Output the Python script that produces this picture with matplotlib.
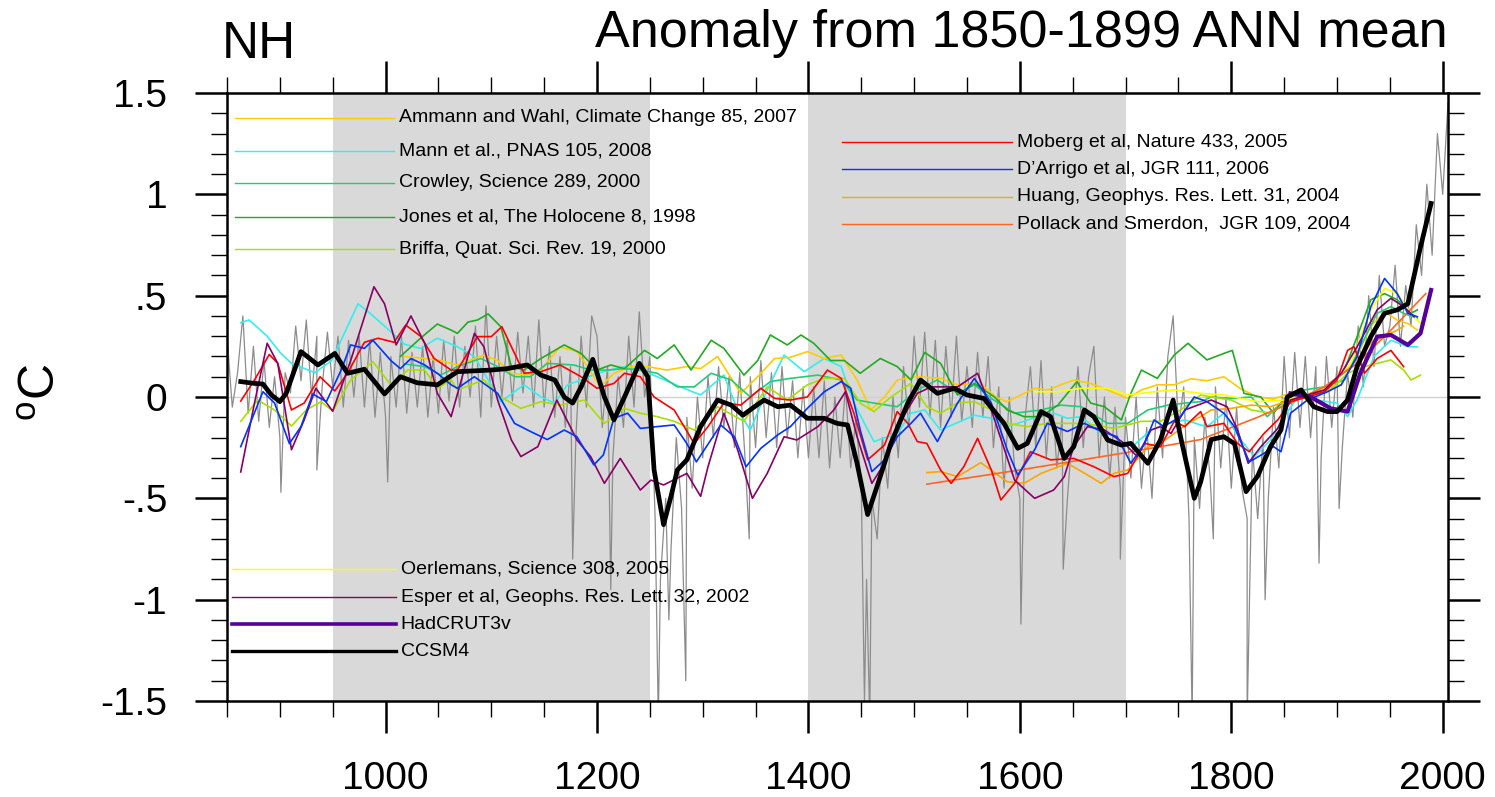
import numpy as np
import matplotlib.pyplot as plt
from matplotlib.ticker import MultipleLocator

plt.rcParams['font.family'] = ['Liberation Sans', 'DejaVu Sans']
plt.rcParams['mathtext.fontset'] = 'custom'
plt.rcParams['mathtext.rm'] = 'Liberation Sans'

# ---- data (years, anomaly degC) ----
shade_start = [950, 1400]
shade_end = [1250, 1700]

mann_yr = [863, 871, 888, 901, 911, 933, 949, 974, 986, 999, 1018, 1033, 1049, 1068, 1084, 1097, 1109, 1131,
           1147, 1160, 1172, 1185, 1200, 1226, 1241, 1257, 1279, 1298, 1320, 1333, 1345, 1361, 1377, 1396,
           1415, 1431, 1443, 1462, 1484, 1497, 1510, 1525, 1557, 1573, 1588, 1604, 1620, 1632, 1645, 1658,
           1677, 1696, 1708, 1724, 1740, 1756, 1771, 1777, 1793, 1809, 1822, 1837, 1850, 1863, 1881, 1900,
           1910, 1919, 1935, 1951, 1967, 1976]
mann_val = [0.367, 0.38, 0.30, 0.215, 0.166, 0.12, 0.18, 0.46, 0.41, 0.35, 0.26, 0.24, 0.29, 0.248, 0.2, 0.084,
            -0.023, 0.06, 0.0, -0.03, 0.06, 0.084, 0.117, 0.15, 0.133, 0.10, 0.05, 0.01, 0.108, -0.064, -0.163,
            0.035, 0.207, 0.125, 0.19, 0.15, -0.03, -0.22, -0.18, -0.08, -0.064, -0.163, -0.09, -0.105, -0.146,
            -0.12, -0.09, -0.08, -0.105, -0.097, -0.18, -0.245, -0.237, -0.163, -0.13, -0.113, -0.138, -0.146,
            -0.08, -0.212, -0.294, -0.212, -0.097, 0.0, -0.015, -0.03, -0.097, -0.015, 0.2, 0.28, 0.248, 0.248]

moberg_yr = [863, 876, 890, 898, 911, 923, 938, 952, 964, 980, 993, 1008, 1019, 1033, 1046, 1062, 1068, 1087,
             1100, 1110, 1122, 1131, 1147, 1165, 1185, 1200, 1216, 1226, 1241, 1254, 1273, 1292, 1305, 1320,
             1336, 1355, 1368, 1383, 1399, 1418, 1431, 1443, 1456, 1472, 1484, 1494, 1503, 1512, 1525, 1535,
             1547, 1560, 1573, 1582, 1595, 1610, 1629, 1651, 1670, 1689, 1702, 1718, 1733, 1746, 1756, 1771,
             1777, 1793, 1806, 1817, 1831, 1844, 1856, 1872, 1888, 1900, 1910, 1916, 1926, 1938, 1951, 1963]
moberg_val = [-0.02, 0.084, 0.21, 0.166, -0.064, -0.03, 0.10, 0.03, 0.117, 0.27, 0.29, 0.27, 0.355, 0.30, 0.19,
              0.133, 0.133, 0.298, 0.298, 0.347, 0.215, 0.117, 0.125, 0.158, 0.10, 0.043, 0.067, 0.117, 0.10,
              0.0, -0.064, -0.23, -0.146, -0.03, -0.04, 0.043, -0.007, -0.015, 0.0, 0.133, 0.092, -0.08, -0.31,
              -0.237, -0.072, -0.13, -0.22, -0.229, -0.36, -0.426, -0.344, -0.204, -0.36, -0.508, -0.426, -0.27,
              -0.31, -0.303, -0.344, -0.393, -0.377, -0.229, -0.245, -0.12, -0.146, -0.072, -0.146, -0.13, -0.23,
              -0.27, -0.18, -0.113, -0.023, 0.0, 0.026, 0.084, 0.23, 0.248, 0.117, 0.19, 0.23, 0.15]

darrigo_yr = [863, 884, 895, 909, 920, 931, 944, 958, 967, 980, 988, 1005, 1014, 1024, 1037, 1049, 1062, 1068,
              1084, 1106, 1122, 1137, 1153, 1169, 1181, 1197, 1206, 1216, 1229, 1241, 1257, 1273, 1285, 1294,
              1317, 1330, 1341, 1355, 1371, 1383, 1399, 1415, 1431, 1440, 1449, 1460, 1472, 1484, 1497, 1506,
              1522, 1541, 1557, 1573, 1588, 1598, 1614, 1626, 1645, 1661, 1677, 1692, 1705, 1718, 1727, 1736,
              1752, 1765, 1777, 1793, 1803, 1817, 1831, 1840, 1847, 1856, 1872, 1891, 1904, 1919, 1932, 1945,
              1957, 1967, 1976]
darrigo_val = [-0.245, 0.026, -0.03, -0.23, -0.146, 0.015, -0.023, 0.133, 0.257, 0.24, 0.28, 0.18, 0.14, 0.19,
               0.158, 0.117, 0.06, 0.043, 0.10, 0.018, -0.13, -0.17, -0.21, -0.163, -0.196, -0.335, -0.286,
               -0.105, -0.08, -0.155, -0.146, -0.138, -0.23, -0.32, -0.138, -0.196, -0.344, -0.253, -0.187,
               -0.146, -0.056, 0.026, 0.076, 0.043, -0.163, -0.368, -0.31, -0.196, -0.13, -0.08, -0.22, -0.03,
               0.092, -0.03, -0.26, -0.385, -0.26, -0.13, -0.17, -0.13, -0.17, -0.196, -0.327, -0.229, -0.113,
               -0.146, -0.097, 0.0, -0.023, -0.08, -0.146, -0.32, -0.278, -0.245, -0.27, -0.08, -0.015, 0.026,
               0.06, 0.2, 0.446, 0.585, 0.51, 0.413, 0.396]

esper_yr = [863, 876, 888, 898, 911, 923, 934, 950, 967, 989, 999, 1010, 1024, 1037, 1049, 1062, 1084, 1093,
            1106, 1119, 1128, 1144, 1162, 1181, 1194, 1207, 1222, 1241, 1251, 1263, 1285, 1298, 1305, 1320,
            1333, 1347, 1361, 1377, 1389, 1409, 1424, 1435, 1446, 1460, 1472, 1484, 1503, 1516, 1541, 1560,
            1573, 1595, 1614, 1632, 1642, 1651, 1664, 1680, 1699, 1711, 1724, 1733, 1743, 1756, 1781, 1796,
            1806, 1816, 1828, 1844, 1856, 1872, 1888, 1904, 1919, 1938, 1951, 1963, 1973]
esper_val = [-0.37, -0.03, 0.265, 0.166, -0.26, -0.113, 0.043, -0.07, 0.18, 0.544, 0.46, 0.257, 0.40, 0.265,
             0.018, -0.097, 0.314, 0.248, -0.015, -0.212, -0.294, -0.245, -0.015, -0.212, -0.294, -0.426,
             -0.303, -0.459, -0.41, -0.434, -0.377, -0.49, -0.344, -0.08, -0.26, -0.5, -0.377, -0.196, -0.212,
             -0.146, -0.064, 0.026, -0.196, -0.426, -0.327, -0.146, 0.018, 0.05, 0.05, 0.117, -0.064, -0.41,
             -0.5, -0.459, -0.393, -0.245, -0.146, -0.163, -0.229, -0.294, -0.163, -0.146, -0.18, -0.064,
             -0.015, -0.048, -0.163, -0.327, -0.245, -0.155, -0.015, 0.01, 0.035, 0.117, 0.248, 0.43, 0.487,
             0.446, 0.396]

briffa_yr = [863, 879, 895, 911, 925, 939, 950, 967, 988, 1005, 1021, 1037, 1049, 1062, 1068, 1093, 1109, 1128,
             1147, 1165, 1188, 1207, 1226, 1241, 1257, 1273, 1292, 1314, 1339, 1361, 1380, 1399, 1415, 1434,
             1449, 1462, 1478, 1497, 1512, 1525, 1541, 1557, 1573, 1588, 1607, 1626, 1651, 1670, 1689, 1715,
             1733, 1752, 1771, 1781, 1800, 1819, 1837, 1856, 1875, 1894, 1910, 1926, 1938, 1951, 1963, 1970,
             1979]
briffa_val = [-0.12, -0.015, -0.064, -0.143, -0.064, -0.023, -0.07, 0.084, 0.174, 0.06, 0.133, 0.133, 0.043,
              0.084, 0.035, 0.084, 0.0, -0.056, -0.023, -0.04, -0.015, -0.13, -0.056, -0.08, -0.097, -0.12,
              -0.163, -0.048, -0.12, 0.05, -0.015, 0.06, 0.092, 0.092, -0.03, -0.072, 0.0, 0.067, -0.048, -0.08,
              -0.03, -0.023, -0.064, -0.13, -0.146, -0.13, -0.13, -0.138, -0.155, -0.12, -0.12, -0.064, 0.01,
              0.0, -0.015, -0.064, -0.08, -0.015, 0.0, 0.035, 0.117, 0.15, 0.166, 0.183, 0.133, 0.084, 0.108]

jones_yr = [1014, 1033, 1049, 1062, 1068, 1078, 1087, 1097, 1109, 1119, 1131, 1147, 1169, 1185, 1200, 1213,
            1226, 1245, 1257, 1273, 1289, 1308, 1320, 1339, 1352, 1364, 1380, 1393, 1405, 1421, 1434, 1449,
            1468, 1484, 1497, 1510, 1525, 1541, 1557, 1576, 1588, 1604, 1620, 1636, 1654, 1667, 1680, 1696,
            1705, 1715, 1730, 1746, 1759, 1777, 1793, 1801, 1812, 1828, 1840, 1853, 1872, 1894, 1907, 1919,
            1932, 1945, 1957, 1970, 1976]
jones_val = [0.20, 0.29, 0.36, 0.33, 0.314, 0.37, 0.38, 0.41, 0.347, 0.15, 0.133, 0.19, 0.257, 0.215, 0.133,
             0.158, 0.14, 0.23, 0.19, 0.257, 0.133, 0.28, 0.24, 0.108, 0.18, 0.306, 0.257, 0.306, 0.265, 0.18,
             0.18, 0.117, 0.19, 0.15, 0.084, 0.22, 0.166, 0.01, 0.067, 0.0, -0.064, -0.097, -0.097, -0.04, 0.076,
             -0.03, -0.048, -0.113, 0.018, 0.133, 0.092, 0.207, 0.265, 0.183, 0.215, 0.23, 0.018, 0.0, -0.08,
             0.01, 0.0, 0.05, 0.133, 0.298, 0.48, 0.51, 0.48, 0.413, 0.43]

crowley_yr = [1018, 1037, 1052, 1068, 1090, 1106, 1122, 1137, 1153, 1178, 1194, 1210, 1226, 1241, 1257, 1276,
              1292, 1308, 1327, 1345, 1364, 1383, 1409, 1431, 1446, 1462, 1484, 1503, 1522, 1541, 1557, 1573,
              1595, 1620, 1639, 1658, 1683, 1702, 1721, 1740, 1756, 1771, 1781, 1800, 1819, 1834, 1850, 1869,
              1888, 1907, 1922, 1938, 1951, 1963, 1976]
crowley_val = [0.163, 0.15, 0.108, 0.15, 0.19, 0.15, 0.10, 0.10, 0.166, 0.158, 0.133, 0.133, 0.14, 0.133, 0.117,
               0.05, 0.05, 0.117, 0.084, 0.0, 0.076, 0.092, 0.108, 0.084, -0.015, -0.03, -0.048, 0.035, 0.084,
               0.018, 0.06, -0.007, -0.08, -0.064, -0.04, -0.048, -0.13, -0.13, -0.064, -0.04, -0.03, -0.023,
               0.0, -0.007, 0.0, -0.097, -0.015, 0.035, 0.05, 0.084, 0.248, 0.413, 0.446, 0.413, 0.388]

ammann_yr = [1018, 1037, 1052, 1068, 1093, 1106, 1119, 1134, 1147, 1165, 1181, 1191, 1203, 1216, 1232, 1248,
             1266, 1285, 1298, 1314, 1336, 1352, 1368, 1383, 1399, 1415, 1431, 1446, 1459, 1472, 1484, 1503,
             1525, 1541, 1563, 1577, 1588, 1614, 1626, 1651, 1667, 1683, 1702, 1715, 1730, 1746, 1762, 1777,
             1793, 1809, 1825, 1840, 1856, 1872, 1888, 1904, 1919, 1932, 1945, 1957, 1968, 1976]
ammann_val = [0.2, 0.19, 0.18, 0.158, 0.207, 0.18, 0.117, 0.108, 0.133, 0.248, 0.224, 0.15, 0.05, 0.117, 0.15,
              0.15, 0.133, 0.15, 0.14, 0.2, 0.018, 0.10, 0.19, 0.196, 0.224, 0.19, 0.207, 0.084, -0.064, 0.0,
              0.084, 0.10, 0.092, 0.06, 0.067, 0.0, -0.023, 0.043, 0.035, 0.084, 0.067, 0.035, -0.007, 0.035,
              0.06, 0.06, 0.09, 0.08, 0.10, 0.04, 0.0, -0.01, 0.02, 0.01, 0.04, 0.06, 0.2, 0.35, 0.42, 0.38,
              0.36, 0.33]

oerlemans_yr = [1614, 1636, 1658, 1683, 1702, 1727, 1746, 1771, 1793, 1825, 1850, 1872, 1894, 1913, 1932, 1945,
                1957, 1970, 1982]
oerlemans_val = [0.026, 0.026, 0.043, 0.043, 0.01, 0.026, 0.035, 0.018, 0.01, -0.023, -0.015, 0.01, 0.05, 0.166,
                 0.43, 0.536, 0.51, 0.413, 0.347]

huang_yr = [1512, 1525, 1541, 1563, 1588, 1604, 1620, 1645, 1664, 1677, 1689, 1702, 1721, 1733, 1746, 1759,
            1771, 1781, 1800, 1819, 1837, 1856, 1875, 1894, 1913, 1932, 1945, 1957, 1963]
huang_val = [-0.373, -0.368, -0.393, -0.324, -0.418, -0.426, -0.377, -0.327, -0.385, -0.426, -0.377, -0.36,
             -0.245, -0.229, -0.18, -0.13, -0.097, -0.064, -0.056, -0.04, -0.048, -0.015, 0.018, 0.067, 0.15,
             0.265, 0.3, 0.33, 0.35]

pollack_yr = [1512, 1600, 1700, 1771, 1825, 1856, 1888, 1919, 1951, 1984]
pollack_val = [-0.43, -0.36, -0.275, -0.21, -0.1, -0.03, 0.05, 0.166, 0.33, 0.51]

hadcrut_yr = [1856, 1875, 1894, 1910, 1922, 1938, 1951, 1967, 1979, 1989]
hadcrut_val = [0.018, 0.0, -0.056, -0.072, 0.117, 0.298, 0.306, 0.257, 0.314, 0.528]

ccsm_yr = [863, 876, 884, 892, 900, 906, 920, 936, 952, 964, 980, 999, 1014, 1030, 1049, 1068, 1100, 1115, 1134,
           1147, 1160, 1169, 1177, 1185, 1196, 1207, 1216, 1226, 1240, 1248, 1254, 1263, 1270, 1276, 1285, 1298,
           1314, 1327, 1338, 1349, 1358, 1371, 1383, 1399, 1415, 1427, 1437, 1446, 1456, 1465, 1478, 1494, 1506,
           1522, 1538, 1550, 1566, 1585, 1598, 1607, 1620, 1629, 1642, 1651, 1661, 1670, 1683, 1696, 1705, 1721,
           1733, 1745, 1752, 1765, 1771, 1781, 1793, 1803, 1814, 1825, 1837, 1847, 1853, 1866, 1878, 1891, 1900,
           1910, 1919, 1932, 1945, 1957, 1967, 1979, 1989]
ccsm_val = [0.076, 0.067, 0.064, 0.01, -0.023, 0.018, 0.224, 0.158, 0.215, 0.117, 0.137, 0.015, 0.10, 0.07, 0.06,
            0.125, 0.133, 0.14, 0.158, 0.108, 0.084, 0.0, -0.03, 0.05, 0.186, 0.0, -0.113, 0.0, 0.166, 0.10,
            -0.36, -0.63, -0.49, -0.36, -0.31, -0.146, -0.015, -0.04, -0.09, -0.048, -0.015, -0.048, -0.04,
            -0.105, -0.105, -0.13, -0.138, -0.327, -0.58, -0.44, -0.229, -0.03, 0.084, 0.018, 0.043, 0.01,
            -0.007, -0.13, -0.253, -0.229, -0.072, -0.097, -0.303, -0.245, -0.064, -0.097, -0.212, -0.237,
            -0.229, -0.327, -0.212, -0.015, -0.196, -0.5, -0.42, -0.21, -0.196, -0.23, -0.467, -0.39, -0.245,
            -0.163, 0.0, 0.035, -0.048, -0.072, -0.072, -0.015, 0.15, 0.298, 0.413, 0.43, 0.46, 0.74, 0.955]

# CCSM4 annual values, every 5 years from 850, plus volcanic dips
annual_yr = np.arange(850, 2006, 5)
annual_val = [0.30, -0.05, 0.12, 0.40, -0.08, 0.25, -0.12, 0.18, -0.15, 0.10,
              -0.20, 0.12, 0.02, 0.35, 0.08, 0.38, 0.0, 0.30, 0.05, 0.32,
              0.05, 0.30, -0.05, 0.28, 0.0, 0.30, -0.05, 0.28, -0.10, 0.22,
              -0.10, 0.20, -0.05, 0.30, -0.08, 0.22, -0.05, 0.25, -0.10, 0.20,
              -0.08, 0.28, -0.02, 0.30, -0.05, 0.25, 0.0, 0.35, -0.10, 0.45,
              -0.05, 0.30, 0.0, 0.28, -0.02, 0.32, 0.02, 0.30, -0.05, 0.38,
              -0.05, 0.25, -0.10, 0.20, -0.15, 0.15, -0.20, 0.30, -0.05, 0.40,
              0.30, -0.15, 0.15, -0.30, 0.10, -0.15, 0.30, -0.05, 0.42, 0.0,
              0.20, -0.6, -0.9, -0.5, -0.75, -0.2, -0.55, -0.1, -0.45, 0.0,
              -0.3, 0.1, -0.2, 0.15, -0.15, 0.1, -0.25, 0.12, -0.3, 0.1,
              -0.25, 0.18, -0.2, 0.12, -0.25, 0.15, -0.2, 0.08, -0.3, 0.05,
              -0.3, 0.05, -0.3, 0.08, -0.35, 0.0, -0.3, 0.05, -0.35, -0.1,
              -0.45, -0.9, -0.5, -0.7, -0.2, -0.45, 0.0, -0.3, 0.15, -0.15,
              0.30, -0.05, 0.32, -0.10, 0.28, -0.15, 0.25, -0.10, 0.30, -0.12,
              0.15, -0.15, 0.22, -0.10, 0.20, -0.25, 0.05, -0.45, 0.0, -0.35,
              -0.5, -0.1, 0.15, -0.25, 0.18, -0.3, 0.05, -0.35, -0.1, -0.5,
              -0.15, 0.15, -0.25, 0.1, 0.25, -0.3, 0.0, -0.4, -0.05, -0.45,
              -0.1, -0.4, 0.0, -0.45, -0.15, -0.5, 0.05, -0.3, 0.2, 0.4,
              -0.15, 0.05, -0.6, -0.2, -0.55, -0.1, -0.4, 0.05, -0.35, 0.0,
              -0.45, -0.05, -0.45, -0.6, -0.25, -0.6, -0.2, -0.5, -0.05, -0.35,
              0.2, -0.2, 0.22, -0.15, 0.2, -0.2, 0.15, -0.3, 0.2, -0.15,
              0.15, -0.25, 0.12, -0.1, 0.35, 0.05, 0.5, 0.15, 0.6, 0.25,
              0.35, 0.65, 0.25, 0.55, 0.35, 0.85, 0.6, 1.05, 0.7, 1.3, 1.0, 1.45]
dip_yr = [901, 935, 1002, 1177, 1213, 1258, 1268, 1284, 1344, 1453, 1458, 1601, 1641, 1695, 1763, 1783, 1815,
          1832, 1883, 1902]
dip_val = [-0.47, -0.36, -0.42, -0.80, -0.95, -1.6, -1.1, -1.4, -0.7, -1.5, -1.6, -1.12, -0.85, -0.8, -1.6,
           -0.7, -1.6, -1.0, -0.82, -0.55]

# ---- figure ----
fig = plt.figure(figsize=(14.95, 7.97), dpi=100)
ax = fig.add_axes([227 / 1495, 96 / 797, 1221 / 1495, 608 / 797])

for s, e in zip(shade_start, shade_end):
    ax.axvspan(s, e, color='#d9d9d9', lw=0, zorder=0)
ax.axhline(0, color='#cfcfcf', lw=1.0, zorder=1)

ann_x = np.concatenate([annual_yr, dip_yr])
ann_y = np.concatenate([annual_val, dip_val])
order = np.argsort(ann_x, kind='stable')
ax.plot(ann_x[order], ann_y[order], color='#8c8c8c', lw=0.9, zorder=2)

series = [
    (mann_yr, mann_val, '#33eeee'),
    (ammann_yr, ammann_val, '#ffcc00'),
    (crowley_yr, crowley_val, '#22cc77'),
    (jones_yr, jones_val, '#22aa22'),
    (briffa_yr, briffa_val, '#aadd00'),
    (oerlemans_yr, oerlemans_val, '#ffff00'),
    (huang_yr, huang_val, '#ffa500'),
    (pollack_yr, pollack_val, '#ff6622'),
    (moberg_yr, moberg_val, '#ff0000'),
    (esper_yr, esper_val, '#880066'),
    (darrigo_yr, darrigo_val, '#0033ff'),
]
for yr, val, col in series:
    ax.plot(yr, val, color=col, lw=1.2, zorder=3, solid_joinstyle='round')
ax.plot(hadcrut_yr, hadcrut_val, color='#550099', lw=3.0, zorder=4, solid_joinstyle='round')
ax.plot(ccsm_yr, ccsm_val, color='black', lw=3.4, zorder=5, solid_joinstyle='round')

ax.set_xlim(850, 2005)
ax.set_ylim(-1.5, 1.5)
ax.set_xticks([1000, 1200, 1400, 1600, 1800, 2000])
ax.xaxis.set_minor_locator(MultipleLocator(50))
ax.set_yticks([-1.5, -1, -0.5, 0, 0.5, 1, 1.5])
ax.set_yticklabels(['-1.5', '-1', '-.5', '0', '.5', '1', '1.5'])
ax.yaxis.set_minor_locator(MultipleLocator(0.1))
ax.tick_params(which='major', direction='out', length=23, width=1.8, labelsize=28, pad=20,
               top=True, right=True)
ax.tick_params(which='minor', direction='out', length=11.5, width=1.0, top=True, right=True)
for sp in ax.spines.values():
    sp.set_linewidth(1.8)

# ---- legend groups ----
def legend_group(x0, x1, rows, names, cols, widths):
    for y, name, col, w in zip(rows, names, cols, widths):
        ax.plot([x0, x1], [y, y], color=col, lw=w, transform=ax.transAxes, zorder=6, clip_on=False)
        ax.text(x1 + 0.004, y, name, transform=ax.transAxes, fontsize=14, va='center', ha='left', zorder=6)

legend_group(0.0066, 0.1368, [0.9594, 0.905, 0.852, 0.7966, 0.7434],
             ['Ammann and Wahl, Climate Change 85, 2007', 'Mann et al., PNAS 105, 2008',
              'Crowley, Science 289, 2000', 'Jones et al, The Holocene 8, 1998',
              'Briffa, Quat. Sci. Rev. 19, 2000'],
             ['#ffcc00', '#33eeee', '#22cc77', '#22aa22', '#aadd00'], [1.0] * 5)
legend_group(0.5037, 0.643, [0.9194, 0.875, 0.829, 0.7845],
             ['Moberg et al, Nature 433, 2005', 'D\u2019Arrigo et al, JGR 111, 2006',
              'Huang, Geophys. Res. Lett. 31, 2004', 'Pollack and Smerdon,  JGR 109, 2004'],
             ['#ff0000', '#0033ff', '#ffa500', '#ff6622'], [1.0] * 4)
legend_group(0.0041, 0.1384, [0.217, 0.171, 0.1266, 0.0822],
             ['Oerlemans, Science 308, 2005', 'Esper et al, Geophs. Res. Lett. 32, 2002',
              'HadCRUT3v', 'CCSM4'],
             ['#ffff00', '#880066', '#550099', 'black'], [1.0, 1.0, 2.6, 2.4])

fig.text(42 / 1495, (797 - 392) / 797, r'$^{\rm o}$C', fontsize=36, rotation=90,
         ha='center', va='center')
fig.text(222 / 1495, (797 - 58) / 797, 'NH', fontsize=37, ha='left', va='baseline')
fig.text(1448 / 1495, (797 - 47) / 797, 'Anomaly from 1850-1899 ANN mean', fontsize=37.5,
         ha='right', va='baseline')

fig.savefig('out.png', dpi=100)
